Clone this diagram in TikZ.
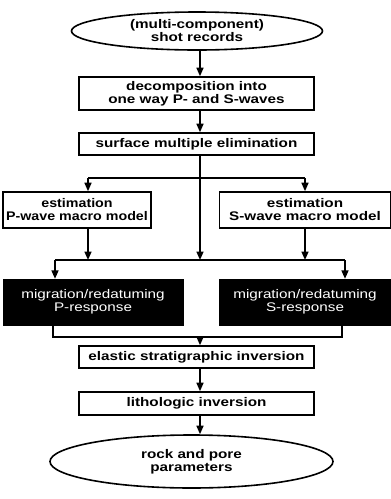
\documentclass[tikz,border=0pt]{standalone}
\usepackage{fontspec}
\setmainfont{Liberation Sans}[FakeStretch=1.22]
\newfontfamily\narrowfont{Liberation Sans}[FakeStretch=1.14]
\usetikzlibrary{shapes.geometric,arrows.meta}
\tikzset{
  txt/.style={font=\fontsize{12.5}{13}\selectfont\bfseries, align=center, inner sep=0pt},
  box/.style={txt, draw, line width=1.6pt, rectangle},
  oval/.style={txt, draw, line width=1.6pt, ellipse},
  blk/.style={rectangle, fill=black, draw=black, inner sep=0pt, align=center, text=white,
    font=\fontsize{12.5}{13}\selectfont},
  ln/.style={line width=1.6pt},
  arr/.style={line width=1.6pt, -{Triangle[length=8.5pt,width=7pt]}},
}
\begin{document}
\begin{tikzpicture}[x=1pt,y=-1pt]
\useasboundingbox (0,0) rectangle (391,499);
\node[oval, minimum width=251pt, minimum height=38pt] (e1) at (197,31) {(multi-component)\\shot records};
\node[box, minimum width=235pt, minimum height=33pt] (b2) at (196.5,93.5) {decomposition into\\one way P- and S-waves};
\node[box, minimum width=235pt, minimum height=22pt] (b3) at (196.5,144) {surface multiple elimination};
\node[box, minimum width=148pt, minimum height=36pt, font=\fontsize{12.5}{13}\narrowfont\bfseries] (pw) at (77,210) {estimation\\P-wave macro model};
\node[box, minimum width=171pt, minimum height=36pt] (sw) at (305,210) {estimation\\S-wave macro model};
\node[blk, minimum width=180pt, minimum height=46pt] (pm) at (93,302) {migration/redatuming\\P-response};
\node[blk, minimum width=171pt, minimum height=46pt] (sm) at (305,302) {migration/redatuming\\S-response};
\node[box, minimum width=235pt, minimum height=22pt] (el) at (196.5,357) {elastic stratigraphic inversion};
\node[box, minimum width=235pt, minimum height=23pt] (li) at (196.5,403.5) {lithologic inversion};
\node[oval, minimum width=283pt, minimum height=53pt] (e2) at (191.5,461.5) {rock and pore\\parameters};
% coordinates
\coordinate (ja) at (200,178);
\coordinate (jal) at (88,178);
\coordinate (jar) at (305,178);
\coordinate (jb) at (200,260);
\coordinate (jbl) at (55,260);
\coordinate (jbr) at (345,260);
\coordinate (jbp) at (88,260);
\coordinate (jbs) at (305,260);
\coordinate (jc) at (200,337);
\coordinate (jcl) at (53,337);
\coordinate (jcr) at (342,337);
% connectors
\draw[arr] (e1.south -| ja) -- (ja |- b2.north);
\draw[arr] (b2.south -| ja) -- (ja |- b3.north);
\draw[arr] (b3.south -| ja) -- (jb);
\draw[ln] (jal) -- (jar);
\draw[arr] (jal) -- (jal |- pw.north);
\draw[arr] (jar) -- (jar |- sw.north);
\draw[arr] (pw.south -| jbp) -- (jbp);
\draw[arr] (sw.south -| jbs) -- (jbs);
\draw[ln] (jbl) -- (jbr);
\draw[arr] (jbl) -- (jbl |- pm.north);
\draw[arr] (jbr) -- (jbr |- sm.north);
\draw[ln] (pm.south -| jcl) -- (jcl) -- (jcr) -- (sm.south -| jcr);
\draw[arr] (jc) -- (jc |- el.north);
\draw[arr] (el.south -| ja) -- (ja |- li.north);
\draw[arr] (li.south -| ja) -- (ja |- e2.north);
\end{tikzpicture}
\end{document}
